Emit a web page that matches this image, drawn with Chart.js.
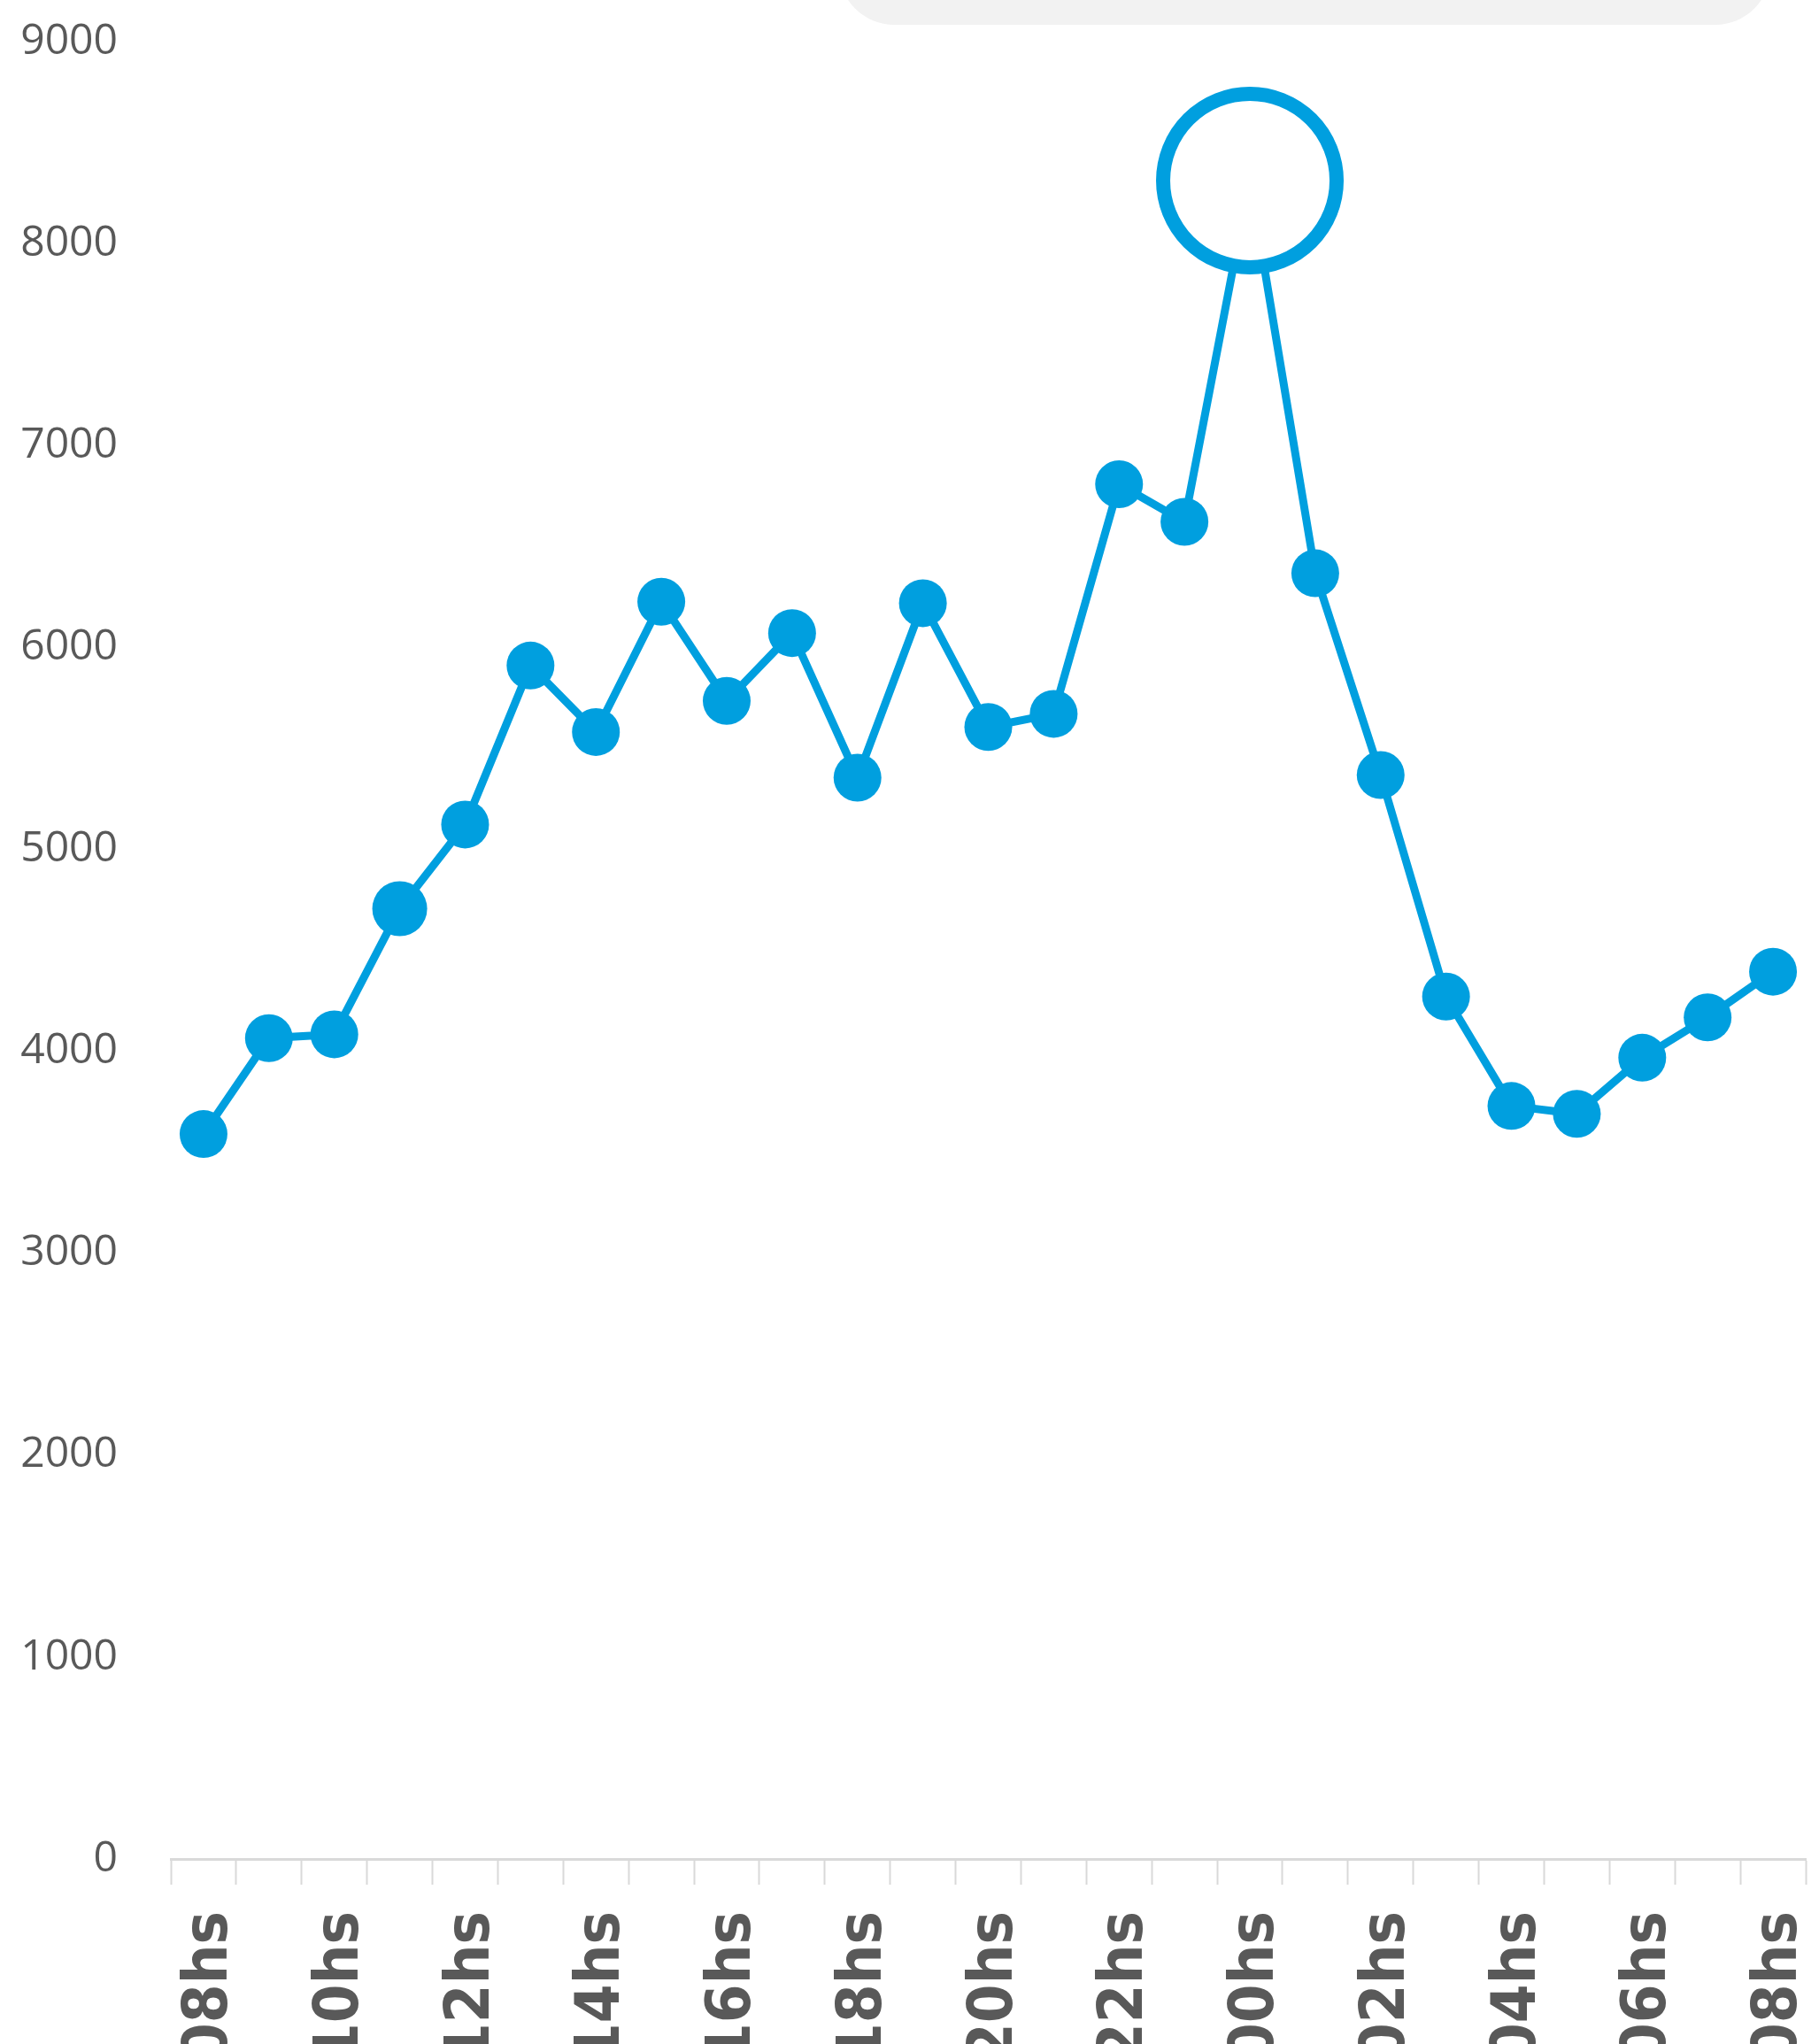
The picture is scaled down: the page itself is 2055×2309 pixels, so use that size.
<!DOCTYPE html>
<html>
<head>
<meta charset="utf-8">
<script src="https://cdn.jsdelivr.net/npm/chart.js@4.4.1/dist/chart.umd.min.js"></script>
<style>
    html, body { margin: 0; padding: 0; background: #ffffff; overflow: hidden; }
    canvas { display: block; }
</style>
</head>
<body>
<canvas id="myChart" width="2055" height="2340"></canvas>
<script>
    // Data-----
    const hours = ['08hs', '09hs', '10hs', '11hs', '12hs', '13hs', '14hs', '15hs', '16hs', '17hs',
        '18hs', '19hs', '20hs', '21hs', '22hs', '23hs', '00hs', '01hs', '02hs', '03hs',
        '04hs', '05hs', '06hs', '07hs', '08hs'];
    const values = [3590, 4065, 4084, 4706, 5123, 5910, 5581, 6226, 5735, 6071,
        5355, 6219, 5606, 5671, 6808, 6622, 8312, 6367, 5368, 4271,
        3729, 3690, 3968, 4168, 4394];
    const yTicks = [0, 1000, 2000, 3000, 4000, 5000, 6000, 7000, 8000, 9000];
    const peakIndex = 16;
    // Data-----

    const blue = '#009fdf';
    const grey = '#595959';
    const canvasHeight = 2340;

    // grey rounded box cut off at the top edge
    const topBox = {
        id: 'topBox',
        beforeDraw(chart) {
            const ctx = chart.ctx;
            ctx.save();
            ctx.fillStyle = '#f2f2f2';
            ctx.beginPath();
            ctx.roundRect(948, -100, 1052, 128, 62);
            ctx.fill();
            ctx.restore();
        }
    };

    // Config-----
    const config = {
        type: 'line',
        data: {
            labels: hours,
            datasets: [{
                data: values,
                borderColor: blue,
                borderWidth: 9,
                tension: 0,
                pointRadius: (ctx) => ctx.dataIndex === peakIndex ? 98 : (ctx.dataIndex === 3 ? 31 : 27),
                pointBackgroundColor: (ctx) => ctx.dataIndex === peakIndex ? '#ffffff' : blue,
                pointBorderColor: blue,
                pointBorderWidth: (ctx) => ctx.dataIndex === peakIndex ? 16 : 0,
                clip: false
            }]
        },
        options: {
            responsive: false,
            animation: false,
            layout: {
                autoPadding: false, // big points would otherwise push the axes in
                padding: {top: 47, right: 15, left: 0, bottom: 0}
            },
            plugins: {
                legend: false,
                tooltip: {enabled: false}
            },
            scales: {
                x: {
                    offset: true,
                    afterFit(scale) {
                        scale.height = canvasHeight - 2100;
                        scale.paddingLeft = 0;
                        scale.paddingRight = 0;
                    },
                    grid: {
                        offset: true,
                        drawOnChartArea: false,
                        drawTicks: true,
                        tickLength: 29,
                        tickColor: '#d9d9d9',
                        tickWidth: 2
                    },
                    border: {
                        display: true,
                        color: '#d9d9d9',
                        width: 3
                    },
                    ticks: {
                        autoSkip: false,
                        minRotation: 90,
                        maxRotation: 90,
                        padding: 30,
                        labelOffset: 8,
                        color: grey,
                        font: {
                            family: "'DejaVu Sans Condensed', 'DejaVu Sans'",
                            weight: 'bold',
                            size: 70
                        },
                        callback(value, index) {
                            return index % 2 === 0 ? hours[index] : '';
                        }
                    }
                },
                y: {
                    min: yTicks[0],
                    max: yTicks[yTicks.length - 1],
                    afterFit(scale) {
                        scale.width = 193;
                        scale.paddingTop = 0;
                        scale.paddingBottom = 0;
                    },
                    afterBuildTicks(scale) {
                        scale.ticks = yTicks.map(v => ({value: v}));
                    },
                    grid: {
                        display: false,
                        drawTicks: false
                    },
                    border: {
                        display: false
                    },
                    ticks: {
                        padding: 60,
                        color: grey,
                        font: {
                            family: "'Open Sans'",
                            size: 48
                        },
                        callback(value) {
                            return String(value);
                        }
                    }
                }
            }
        },
        plugins: [topBox]
    };
    // Config-----

    var myChart = new Chart(
        document.getElementById('myChart'),
        config
    );
</script>
</body>
</html>
